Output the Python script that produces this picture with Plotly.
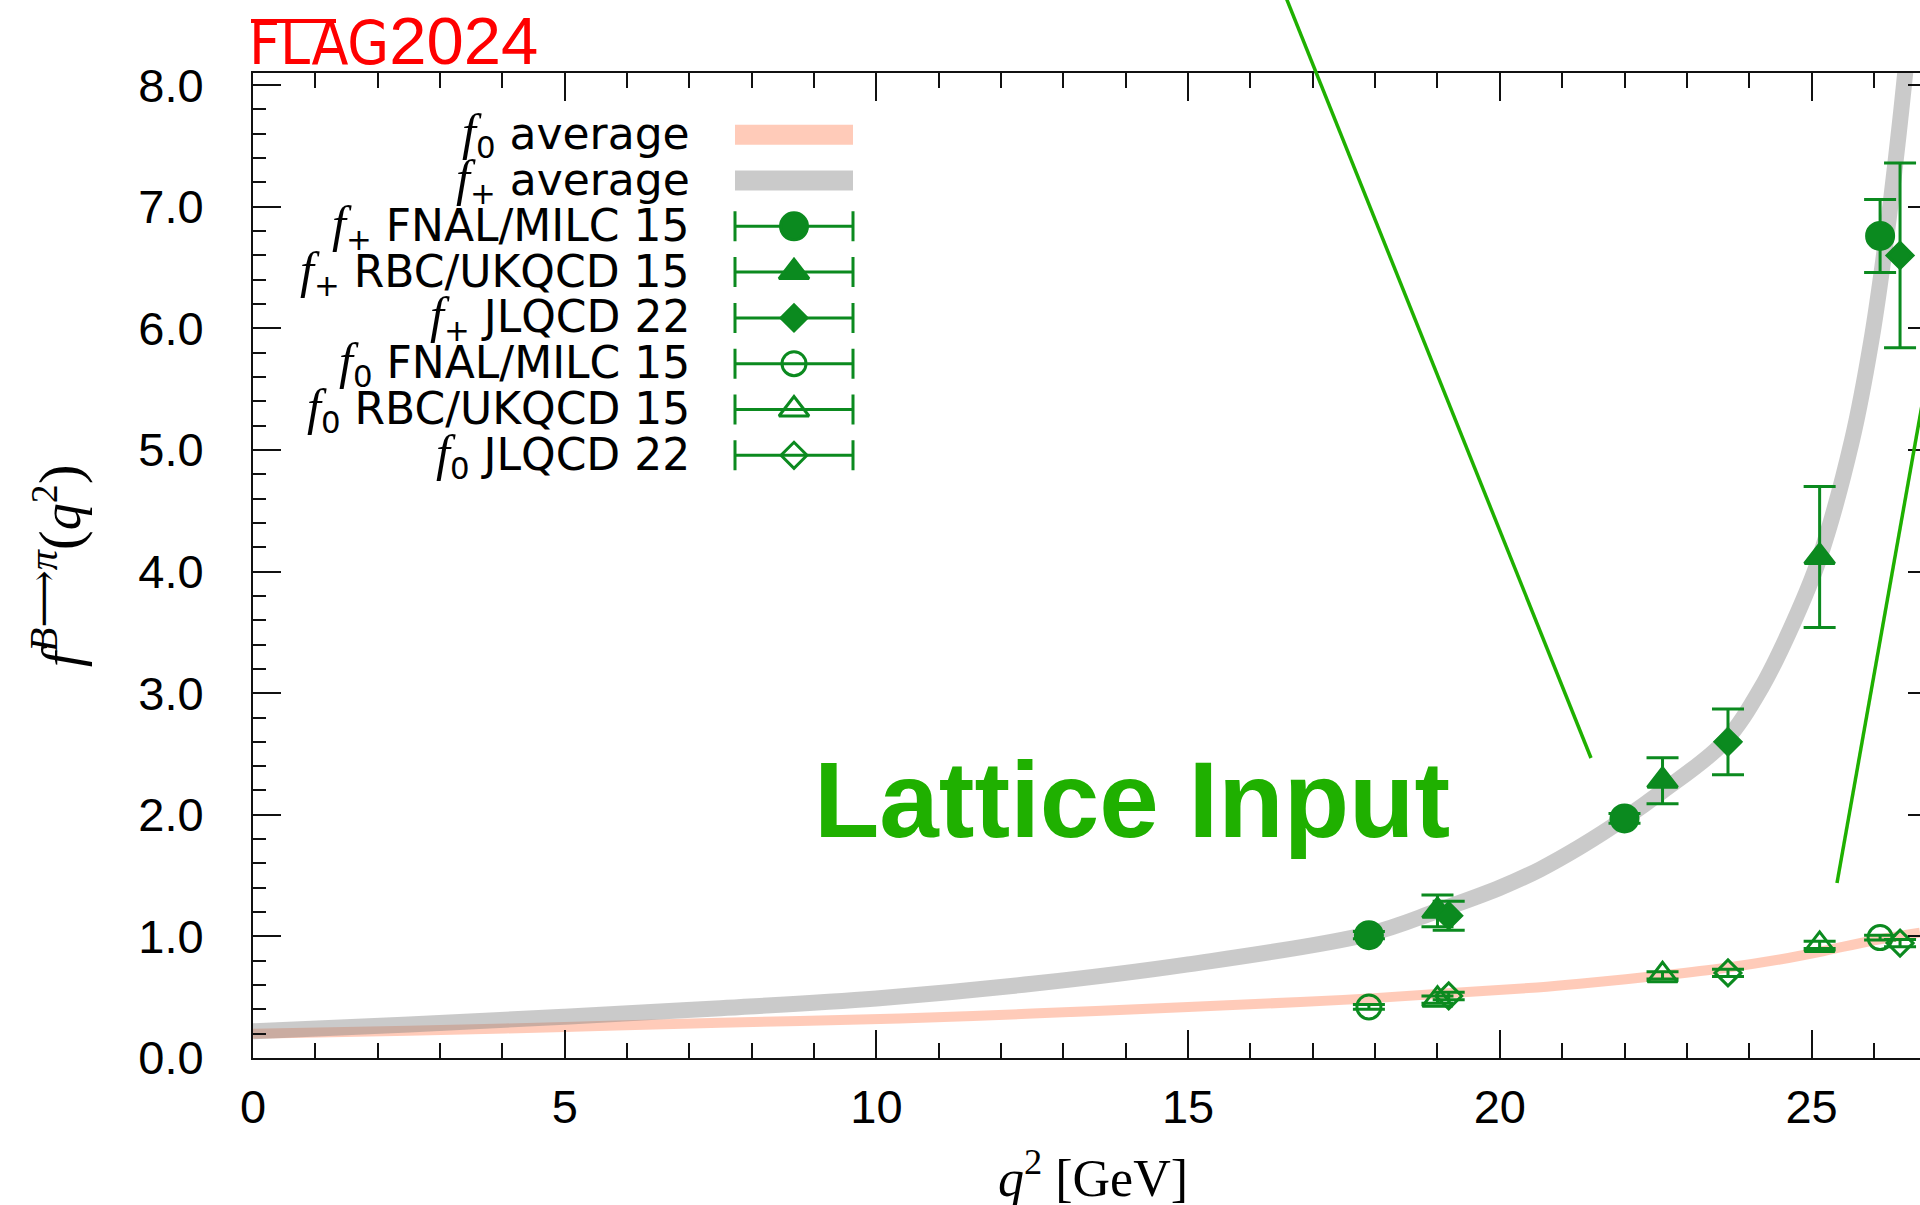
import plotly.graph_objects as go

# ---------------- data ----------------
# f+ average band (centre line)
q2_fplus_band = [0, 2.5, 5, 7.5, 10, 12.5, 15, 17.9, 19.0, 20.0, 20.64, 21.3, 22.0, 22.6,
                 23.6, 24.2, 24.7, 25.12, 25.65, 25.96, 26.2, 26.42, 26.6]
fplus_band = [0.22, 0.275, 0.34, 0.41, 0.49, 0.61, 0.77, 1.02, 1.21, 1.40, 1.55, 1.74, 1.97, 2.19,
              2.60, 3.05, 3.57, 4.10, 5.08, 5.90, 6.75, 7.70, 8.60]
# f0 average band (centre line)
q2_f0_band = [0, 2.5, 5, 7.5, 10.38, 12.5, 15, 16.8, 17.9, 19.1, 20.6, 21.28, 22.61, 23.6,
              24.49, 25.2, 25.93, 26.74]
f0_band = [0.20, 0.225, 0.255, 0.29, 0.325, 0.365, 0.42, 0.46, 0.49, 0.53, 0.58, 0.61, 0.68, 0.74,
           0.81, 0.88, 0.96, 1.03]

# lattice points
fp_fnal_q2 = [17.90, 22.00, 26.10]
fp_fnal = [1.01, 1.97, 6.76]
fp_fnal_err = [0.03, 0.04, 0.30]

fp_rbc_q2 = [19.00, 22.61, 25.13]
fp_rbc = [1.21, 2.28, 4.12]
fp_rbc_err = [0.13, 0.19, 0.58]

fp_jlqcd_q2 = [19.18, 23.66, 26.42]
fp_jlqcd = [1.17, 2.60, 6.60]
fp_jlqcd_err = [0.12, 0.27, 0.76]

f0_fnal_q2 = [17.90, 26.10]
f0_fnal = [0.42, 0.99]
f0_fnal_err = [0.02, 0.02]

f0_rbc_q2 = [19.00, 22.61, 25.13]
f0_rbc = [0.48, 0.68, 0.93]
f0_rbc_err = [0.03, 0.03, 0.03]

f0_jlqcd_q2 = [19.18, 23.66, 26.42]
f0_jlqcd = [0.51, 0.70, 0.945]
f0_jlqcd_err = [0.03, 0.03, 0.03]

legend_names = ["average", "average", "FNAL/MILC 15", "RBC/UKQCD 15", "JLQCD 22",
                "FNAL/MILC 15", "RBC/UKQCD 15", "JLQCD 22"]
legend_subs = ["0", "+", "+", "+", "+", "0", "0", "0"]

# ---------------- styles ----------------
GREEN = "#0b8a1f"
BRIGHT = "#1fb000"
F0_COL = "rgba(255,140,100,0.45)"
FP_COL = "rgba(128,128,128,0.42)"
AX = "#111111"
SANS = "Liberation Sans, Arial, Helvetica, sans-serif"
LEG = "DejaVu Sans, Liberation Sans, Arial, sans-serif"
SERIF = "Liberation Serif, DejaVu Serif, serif"

F_TMPL = ("<span style='font-family:Liberation Serif, DejaVu Serif, serif;font-size:50px'><i>f</i></span>"
          "<sub>{}</sub>&nbsp;")

W, H = 1920, 1205
L, R, T, B = 253, 0, 73, 147
PW, PH = W - L - R, H - T - B


def px_x(px):
    return (px - L) / PW


def px_y(py):
    return (H - B - py) / PH


fig = go.Figure()

# bands
fig.add_trace(go.Scatter(x=q2_f0_band, y=f0_band, mode="lines",
                         line=dict(color=F0_COL, width=10, shape="spline"),
                         hoverinfo="skip", showlegend=False))
fig.add_trace(go.Scatter(x=q2_fplus_band, y=fplus_band, mode="lines",
                         line=dict(color=FP_COL, width=16, shape="spline"),
                         hoverinfo="skip", showlegend=False))

series = [
    (fp_fnal_q2, fp_fnal, fp_fnal_err, "circle", 27),
    (fp_rbc_q2, fp_rbc, fp_rbc_err, "triangle-up", 26),
    (fp_jlqcd_q2, fp_jlqcd, fp_jlqcd_err, "diamond", 20),
    (f0_fnal_q2, f0_fnal, f0_fnal_err, "circle-open", 24),
    (f0_rbc_q2, f0_rbc, f0_rbc_err, "triangle-up-open", 26),
    (f0_jlqcd_q2, f0_jlqcd, f0_jlqcd_err, "diamond-open", 20),
]
for xs, ys, es, sym, sz in series:
    fig.add_trace(go.Scatter(
        x=xs, y=ys, mode="markers",
        marker=dict(symbol=sym, size=sz, color=GREEN, line=dict(color=GREEN, width=3)),
        error_y=dict(type="data", array=es, color=GREEN, thickness=3, width=16),
        showlegend=False, hoverinfo="skip"))

# dummy trace for right-hand tick axis
fig.add_trace(go.Scatter(x=[0], y=[0], yaxis="y2", mode="markers",
                         marker=dict(opacity=0), showlegend=False, hoverinfo="skip"))

# ---------------- hand-made legend (overlay axis in plot fractions) ----------------
row_px = [134.7 + 45.8 * i for i in range(8)]
sx0, sx1 = px_x(735), px_x(853)
scx, shw = (sx0 + sx1) / 2, (sx1 - sx0) / 2
band_cols = [F0_COL, FP_COL]
for i in range(2):
    yy = px_y(row_px[i])
    fig.add_trace(go.Scatter(x=[sx0, sx1], y=[yy, yy], xaxis="x3", yaxis="y3", mode="lines",
                             line=dict(color=band_cols[i], width=20),
                             showlegend=False, hoverinfo="skip"))
for i, (_, _, _, sym, sz) in enumerate(series):
    yy = px_y(row_px[i + 2])
    fig.add_trace(go.Scatter(
        x=[scx], y=[yy], xaxis="x3", yaxis="y3", mode="markers",
        marker=dict(symbol=sym, size=sz, color=GREEN, line=dict(color=GREEN, width=3)),
        error_x=dict(type="data", array=[shw], color=GREEN, thickness=3, width=15),
        showlegend=False, hoverinfo="skip"))

annotations = []
for i, (sub, name) in enumerate(zip(legend_subs, legend_names)):
    annotations.append(dict(x=px_x(692), y=px_y(row_px[i]), xref="paper", yref="paper",
                            text=F_TMPL.format(sub) + name, showarrow=False,
                            xanchor="right", yanchor="middle",
                            font=dict(family=LEG, size=44, color="black")))

# axis titles
annotations.append(dict(
    x=px_x(57), y=px_y(566), xref="paper", yref="paper", textangle=-90,
    text=("<i>f</i><sup><span style='font-size:40px'><i>B</i>⟶<i>π</i></span></sup>"
          "<span style='font-size:60px'>(</span><i>q</i><sup>2</sup>"
          "<span style='font-size:60px'>)</span>"),
    showarrow=False, xanchor="center", yanchor="middle",
    font=dict(family=SERIF, size=54, color="black")))
annotations.append(dict(
    x=px_x(1093), y=px_y(1174), xref="paper", yref="paper",
    text="<i>q</i><sup>2</sup> [GeV]", showarrow=False, xanchor="center", yanchor="middle",
    font=dict(family=SERIF, size=52, color="black")))

# FLAG logo
annotations.append(dict(
    x=px_x(247), y=px_y(80), xref="paper", yref="paper",
    text="<span style='font-family:Liberation Sans Narrow, DejaVu Sans Condensed, Arial Narrow'>FLAG</span>"
         "<span style='font-size:67px'>2024</span>",
    showarrow=False, xanchor="left", yanchor="bottom",
    font=dict(family=SANS, size=60, color="#ff0000")))

# Lattice Input label
annotations.append(dict(
    x=14.1, y=2.12, xref="x", yref="y", text="<b>Lattice Input</b>",
    showarrow=False, xanchor="center", yanchor="middle",
    font=dict(family=SANS, size=107, color=BRIGHT)))

shapes = [
    dict(type="line", xref="paper", yref="paper",
         x0=px_x(1283), y0=px_y(-10), x1=px_x(1591), y1=px_y(758),
         line=dict(color=BRIGHT, width=3.5)),
    dict(type="line", xref="paper", yref="paper",
         x0=px_x(1837), y0=px_y(883), x1=px_x(1930), y1=px_y(360),
         line=dict(color=BRIGHT, width=3.5)),
    dict(type="line", xref="paper", yref="paper",
         x0=px_x(251), y0=px_y(21), x1=px_x(336), y1=px_y(21),
         line=dict(color="#ff0000", width=4)),
]

tickfont = dict(family=SANS, size=47, color="black")
fig.update_layout(
    width=W, height=H,
    margin=dict(l=L, r=R, t=T, b=B, pad=0),
    paper_bgcolor="white", plot_bgcolor="white",
    showlegend=False,
    xaxis=dict(range=[0, 26.74], tickmode="linear", tick0=0, dtick=5,
               ticks="inside", ticklen=28, tickwidth=2, tickcolor=AX,
               showline=True, linewidth=2, linecolor=AX, mirror="ticks",
               showgrid=False, zeroline=False, tickfont=tickfont,
               ticklabelstandoff=7,
               minor=dict(tick0=0, dtick=1, ticks="inside", ticklen=15, tickwidth=2,
                          tickcolor=AX, showgrid=False)),
    yaxis=dict(range=[0, 8.1], tickmode="linear", tick0=0, dtick=1, tickformat=".1f",
               ticks="inside", ticklen=28, tickwidth=2, tickcolor=AX,
               showline=True, linewidth=2, linecolor=AX, mirror=False,
               showgrid=False, zeroline=False, tickfont=tickfont,
               ticklabelstandoff=38,
               minor=dict(tick0=0, dtick=0.2, ticks="inside", ticklen=13, tickwidth=2,
                          tickcolor=AX, showgrid=False)),
    yaxis2=dict(range=[0, 8.1], overlaying="y", side="right", anchor="x",
                tickmode="linear", tick0=0, dtick=1, ticks="inside", ticklen=12,
                tickwidth=2, tickcolor=AX, showticklabels=False, showline=False,
                showgrid=False, zeroline=False),
    xaxis3=dict(range=[0, 1], overlaying="x", anchor="y3", visible=False, domain=[0, 1]),
    yaxis3=dict(range=[0, 1], overlaying="y", anchor="x3", visible=False, domain=[0, 1]),
    annotations=annotations,
    shapes=shapes,
)

fig.write_html("out.html")
